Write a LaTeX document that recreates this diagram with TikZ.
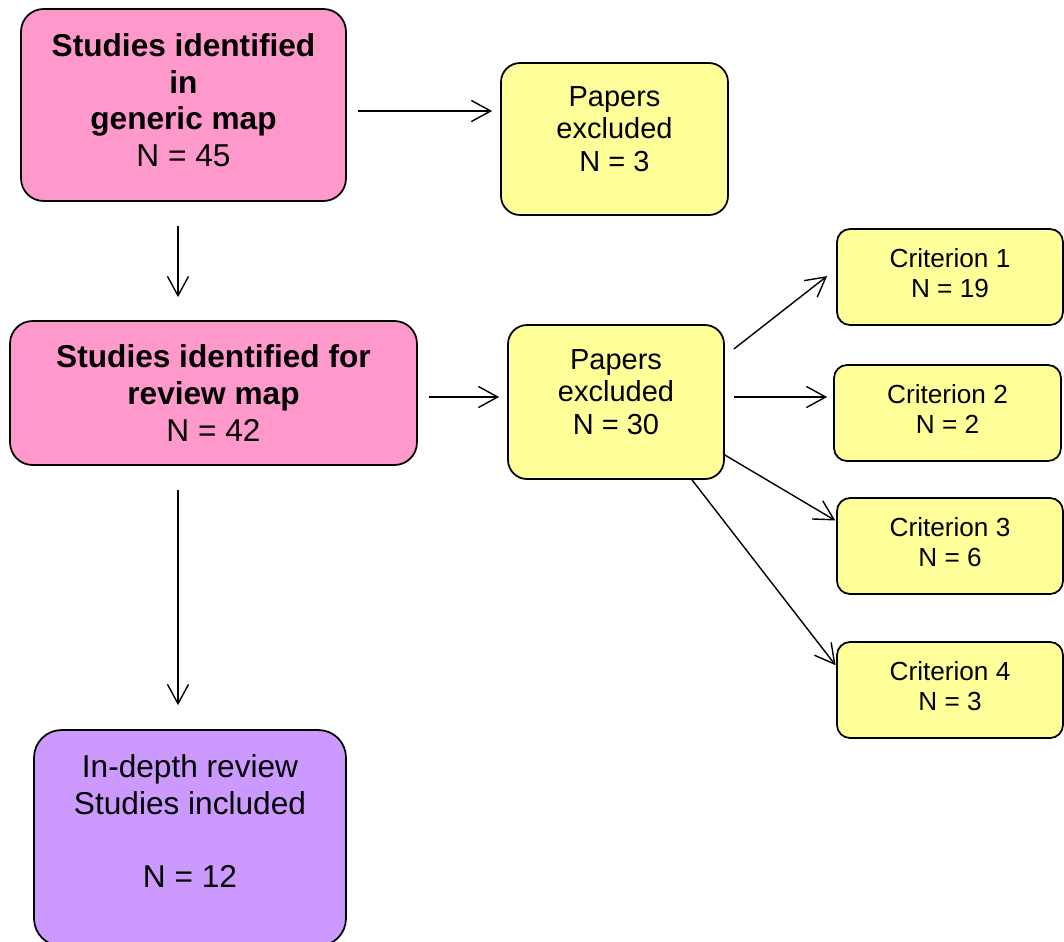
\documentclass[tikz,border=0pt]{standalone}
\usepackage{fontspec}
\setmainfont{Liberation Sans}
\usetikzlibrary{positioning, arrows.meta}
\definecolor{pinkfill}{HTML}{FF99CC}
\definecolor{yellowfill}{HTML}{FFFF99}
\definecolor{lilacfill}{HTML}{CC99FF}
\newcommand{\lift}[1]{\rule[-#1]{0pt}{#1}}

\begin{document}
\begin{tikzpicture}[x=0.02cm, y=-0.02cm,
		box/.style={draw, line width=1pt, align=center, inner sep=2pt},
		bigtext/.style={font=\fontsize{18}{20.8}\selectfont},
		midtext/.style={font=\fontsize{16.5}{18.7}\selectfont},
		smalltext/.style={font=\fontsize{14.9}{17}\selectfont},
		studybox/.style={box, bigtext, fill=pinkfill, rounded corners=0.45cm},
		excludebox/.style={box, midtext, fill=yellowfill, rounded corners=0.38cm,
			minimum width=4.4cm, minimum height=3.06cm},
		critbox/.style={box, smalltext, fill=yellowfill, rounded corners=0.26cm,
			minimum width=4.52cm, minimum height=1.92cm},
		arr/.style={-{Straight Barb[length=11pt, width=12pt]}, line width=0.8pt}]
		\useasboundingbox (0, 0) rectangle (1064, 941);
		
		% Main boxes
		\node[studybox, minimum width=6.5cm, minimum height=3.84cm] (generic) at (183.5, 105)
		{\textbf{Studies identified}\\ \textbf{in}\\ \textbf{generic map}\\ N = 45\lift{0.2cm}};
		\node[studybox, minimum width=8.14cm, minimum height=2.88cm] (review) at (213.5, 393)
		{\textbf{Studies identified for}\\ \textbf{review map}\\ N = 42};
		\node[box, bigtext, fill=lilacfill, rounded corners=0.55cm,
		minimum width=6.24cm, minimum height=4.32cm] (indepth) at (190, 838)
		{In-depth review\\ Studies included\\[20.8pt] N = 12\lift{0.68cm}};
		
		% Excluded papers
		\node[excludebox, minimum width=4.54cm, minimum height=3.04cm] (excl1) at (614.5, 139)
		{Papers\\ excluded\\ N = 3\lift{0.4cm}};
		\node[excludebox, minimum width=4.32cm, minimum height=3.08cm] (excl2) at (616, 402)
		{Papers\\ excluded\\ N = 30\lift{0.4cm}};
		
		% Exclusion criteria
		\node[critbox] (crit1) at (950, 277) {Criterion 1\\ N = 19\lift{0.16cm}};
		\node[critbox, minimum width=4.54cm] (crit2) at (947.5, 413) {Criterion 2\\ N = 2\lift{0.16cm}};
		\node[critbox] (crit3) at (950, 546) {Criterion 3\\ N = 6\lift{0.16cm}};
		\node[critbox] (crit4) at (950, 690) {Criterion 4\\ N = 3\lift{0.16cm}};
		
		% Arrows
		\draw[arr, shorten <=0.22cm, shorten >=0.16cm]
		([yshift=-0.12cm]generic.east) -- ([yshift=-0.12cm]generic.east -| excl1.west);
		\draw[arr, shorten <=0.48cm, shorten >=0.46cm]
		([xshift=-0.11cm]generic.south) -- ([xshift=-0.11cm]generic.south |- review.north);
		\draw[arr, shorten <=0.22cm, shorten >=0.16cm]
		([yshift=-0.08cm]review.east) -- ([yshift=-0.08cm]review.east -| excl2.west);
		\draw[arr, shorten <=0.48cm, shorten >=0.48cm]
		([xshift=-0.71cm]review.south) -- ([xshift=-0.71cm]review.south |- indepth.north);
		\draw[arr, shorten <=0.23cm, shorten >=0.23cm]
		([yshift=0.92cm]excl2.east) -- ([yshift=0.16cm]crit1.west);
		\draw[arr, shorten <=0.18cm, shorten >=0.12cm]
		([yshift=0.1cm]excl2.east) -- ([yshift=0.1cm]excl2.east -| crit2.west);
		\draw[arr, shorten >=0.02cm]
		([yshift=-1.06cm]excl2.east) -- ([yshift=0.5cm]crit3.west);
		\draw[arr, shorten >=0.02cm]
		([xshift=1.52cm]excl2.south) -- ([yshift=0.48cm]crit4.west);
	\end{tikzpicture}
\end{document}
